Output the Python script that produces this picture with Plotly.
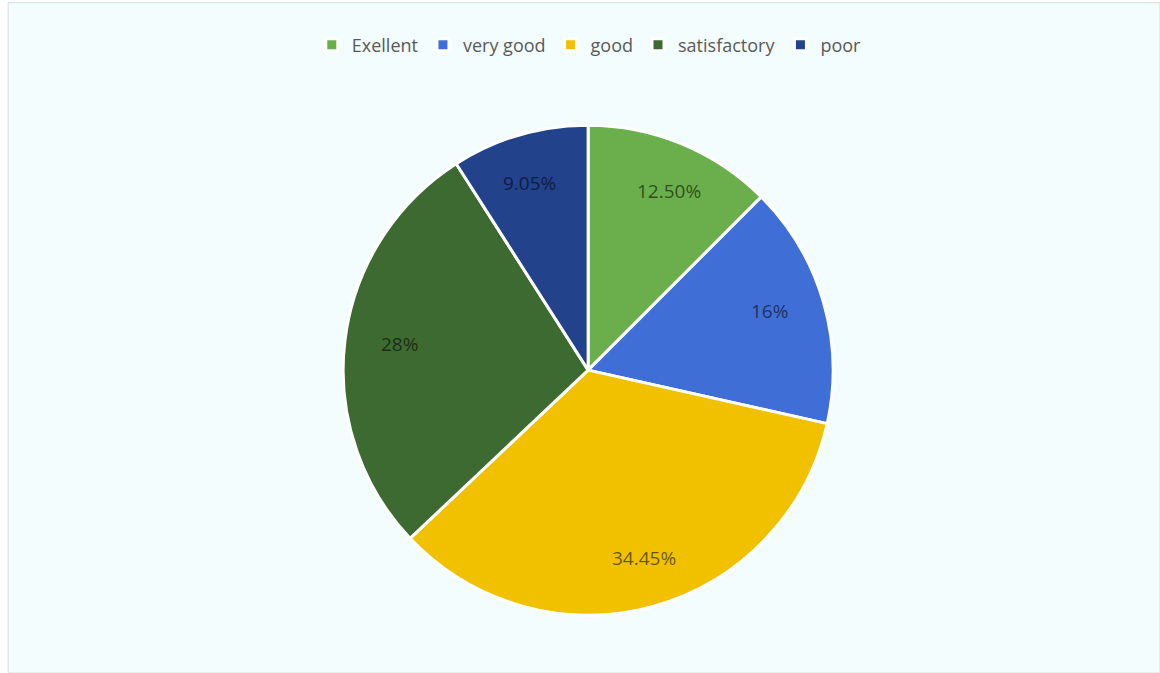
import math
import plotly.graph_objects as go

categories = ["Exellent", "very good", "good", "satisfactory", "poor"]
values = [12.50, 16, 34.45, 28, 9.05]
labels_text = ["12.50%", "16%", "34.45%", "28%", "9.05%"]
colors = ["#6AAF4B", "#3F6FD6", "#F1C100", "#3D6A30", "#22428B"]

W, H = 1160, 673
dom_x = [0.207, 0.807]
dom_y = [0.086, 0.814]
cx = (dom_x[0] + dom_x[1]) / 2
cy = (dom_y[0] + dom_y[1]) / 2
R = min((dom_x[1] - dom_x[0]) * W, (dom_y[1] - dom_y[0]) * H) / 2

fig = go.Figure(go.Pie(
    labels=categories,
    values=values,
    text=labels_text,
    textinfo="none",
    sort=False,
    direction="clockwise",
    rotation=0,
    marker=dict(colors=colors, line=dict(color="white", width=3)),
    domain=dict(x=dom_x, y=dom_y),
    hoverinfo="label+text",
))

# data labels placed near the outer part of each slice (mid-angle)
annotations = []
total = sum(values)
cum = 0.0
for v, t in zip(values, labels_text):
    mid = (cum + v / 2) / total * 2 * math.pi
    cum += v
    r = 0.86 * R
    annotations.append(dict(
        x=cx + r * math.sin(mid) / W, y=cy + r * math.cos(mid) / H,
        xref="paper", yref="paper", text=t, showarrow=False,
        font=dict(family="Open Sans", size=19, color="rgba(0,0,0,0.58)"),
    ))

fig.update_layout(
    width=W, height=H,
    margin=dict(l=0, r=0, t=0, b=0),
    paper_bgcolor="white",
    showlegend=True,
    legend=dict(orientation="h", x=0.508, xanchor="center", y=0.933, yanchor="middle",
                font=dict(family="Open Sans", size=18, color="#595959"),
                bgcolor="rgba(0,0,0,0)", itemwidth=30, traceorder="normal"),
    annotations=annotations,
    shapes=[dict(type="rect", xref="paper", yref="paper", x0=0.007, x1=1.0, y0=0.0, y1=0.996,
                 line=dict(color="#D9DEDF", width=1), fillcolor="#F3FDFD", layer="below")],
)

fig.write_html("out.html")
